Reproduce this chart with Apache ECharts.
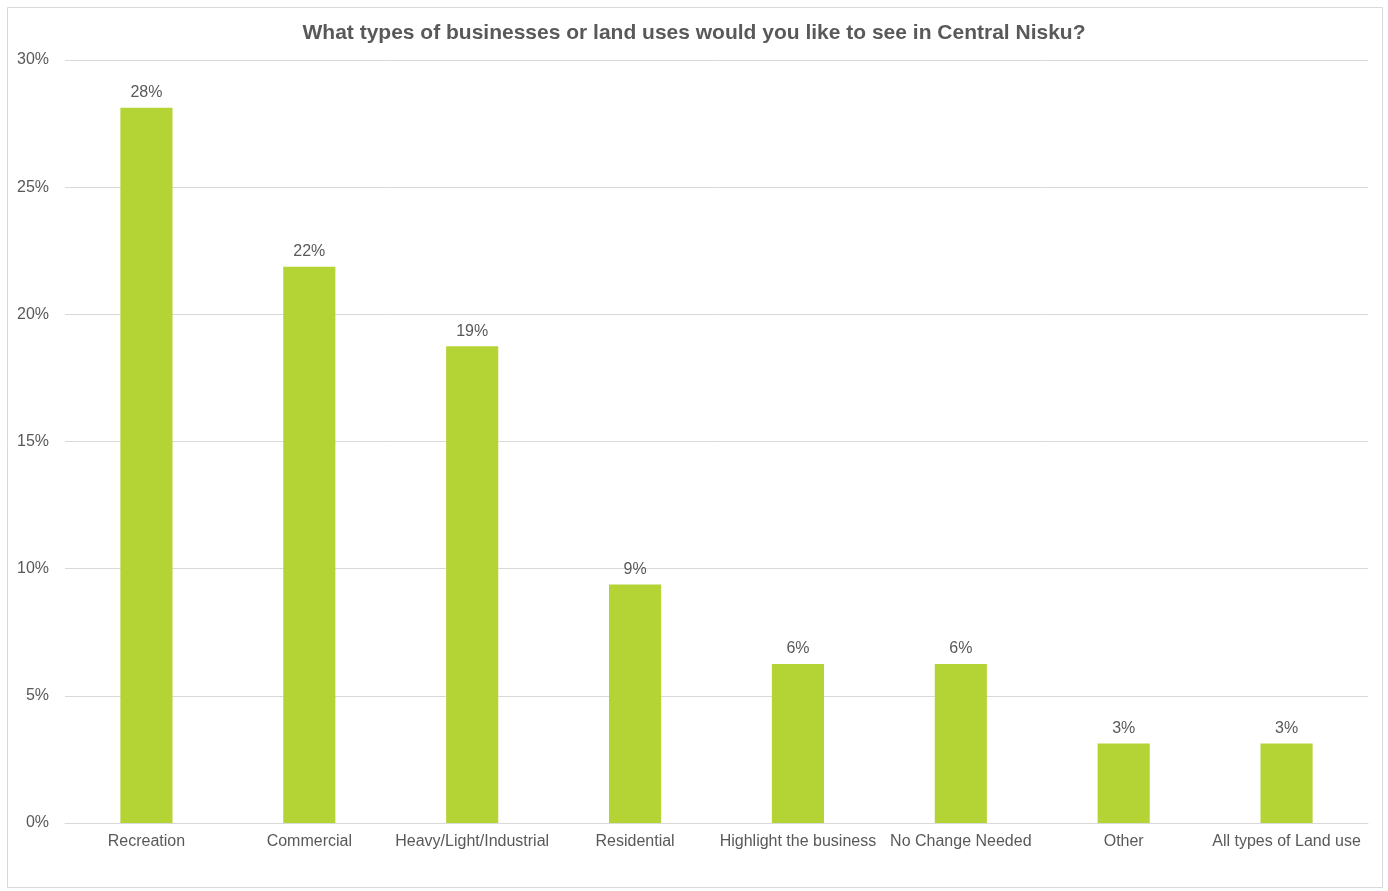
<!DOCTYPE html>
<html>
<head>
<meta charset="utf-8">
<style>
  html, body { margin: 0; padding: 0; background: #ffffff; }
  #chart { width: 1388px; height: 891px; }
</style>
<script src="https://cdn.jsdelivr.net/npm/echarts@6/dist/echarts.min.js"></script>
</head>
<body>
<div id="chart"></div>
<script>
// Survey responses: share of respondents per preferred land use (%)
const categories = [
  'Recreation',
  'Commercial',
  'Heavy/Light/Industrial',
  'Residential',
  'Highlight the business',
  'No Change Needed',
  'Other',
  'All types of Land use'
];
const shares = [28.125, 21.875, 18.75, 9.375, 6.25, 6.25, 3.125, 3.125];
const yTicks = [0, 5, 10, 15, 20, 25, 30];

const textColor = '#595959';
const lineColor = '#d9d9d9';
const barColor = '#b4d335';
const font = 'Liberation Sans, Arial, sans-serif';

const chart = echarts.init(document.getElementById('chart'));
chart.setOption({
  animation: false,
  backgroundColor: '#ffffff',
  title: {
    text: 'What types of businesses or land uses would you like to see in Central Nisku?',
    left: 'center',
    top: 18,
    textStyle: { color: textColor, fontFamily: font, fontSize: 21, fontWeight: 'bold' }
  },
  graphic: [{
    type: 'rect',
    shape: { x: 7.5, y: 7.5, width: 1375, height: 880 },
    style: { fill: 'none', stroke: lineColor, lineWidth: 1 },
    silent: true
  }],
  grid: { left: 65, right: 20, top: 60, bottom: 68 },
  xAxis: {
    type: 'category',
    data: categories,
    axisLine: { lineStyle: { color: lineColor } },
    axisTick: { show: false },
    axisLabel: { color: textColor, fontFamily: font, fontSize: 16, margin: 11, interval: 0 }
  },
  yAxis: {
    type: 'value',
    min: yTicks[0],
    max: yTicks[yTicks.length - 1],
    interval: yTicks[1] - yTicks[0],
    axisLine: { show: false },
    axisTick: { show: false },
    splitLine: { lineStyle: { color: lineColor } },
    axisLabel: { color: textColor, fontFamily: font, fontSize: 16, margin: 16, formatter: v => v + '%' }
  },
  series: [{
    type: 'bar',
    data: shares,
    barWidth: '32%',
    itemStyle: { color: barColor },
    label: {
      show: true,
      position: 'top',
      distance: 7,
      color: textColor,
      fontFamily: font,
      fontSize: 16,
      formatter: p => Math.round(p.value) + '%'
    }
  }]
});
</script>
</body>
</html>
